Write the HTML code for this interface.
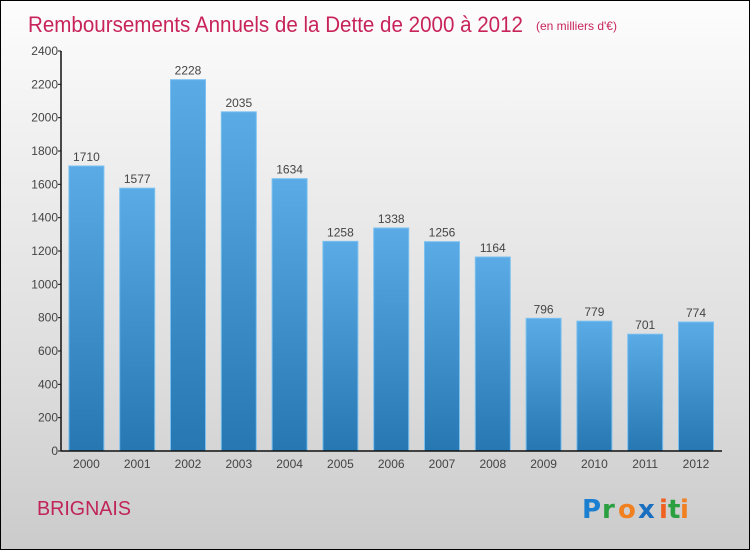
<!DOCTYPE html>
<html><head><meta charset="utf-8"><style>
body{margin:0;width:750px;height:550px;overflow:hidden;font-family:"Liberation Sans",sans-serif}
#wrap{position:absolute;left:0;top:0;width:748px;height:548px;border:1px solid #000;background:linear-gradient(#fdfdfd,#f0f0f0 25%,#dcdcdc 70%,#cbcbcb)}
</style></head><body>
<div id="wrap">
<svg width="750" height="550" viewBox="0 0 750 550">
<defs><linearGradient id="bg" x1="0" y1="0" x2="0" y2="1"><stop offset="0" stop-color="#5aabe6"/><stop offset="1" stop-color="#2677b2"/></linearGradient></defs>
<text x="27" y="31" font-size="22" fill="#c8245a" textLength="495" lengthAdjust="spacingAndGlyphs">Remboursements Annuels de la Dette de 2000 à 2012</text>
<text x="535" y="29" font-size="12" fill="#c8245a">(en milliers d'€)</text>
<g id="bars"></g>
<g id="axes"></g>
<text x="36" y="514" font-size="20" fill="#c0245a" textLength="94" lengthAdjust="spacingAndGlyphs">BRIGNAIS</text>
<g font-family="'DejaVu Sans',sans-serif" font-size="26" font-weight="bold">
<text x="581" y="517" fill="#1a7fd0">P</text><text x="601" y="517" fill="#2aa040">r</text><text x="617" y="517" fill="#f08020">o</text><text x="637" y="517" fill="#1a6fc0">x</text><text x="658" y="517" fill="#f06020">i</text><text x="667" y="517" fill="#2aa040">t</text><text x="679" y="517" fill="#f08020">i</text>
</g>
</svg></div>
<script>
const categories=["2000","2001","2002","2003","2004","2005","2006","2007","2008","2009","2010","2011","2012"];
const values=[1710,1577,2228,2035,1634,1258,1338,1256,1164,796,779,701,774];
const yTicks=[0,200,400,600,800,1000,1200,1400,1600,1800,2000,2200,2400];
const NS="http://www.w3.org/2000/svg";
const x0=60,step=50.8,bw=35,yBase=450,yMax=2400,ph=400;
const y=v=>yBase-v/yMax*ph;
const xc=i=>x0+step*(i+0.5);
function mk(t,a,p){const e=document.createElementNS(NS,t);for(const k in a)e.setAttribute(k,a[k]);p.appendChild(e);return e;}
const bars=document.getElementById('bars'),axes=document.getElementById('axes');
values.forEach((v,i)=>{
 const r=mk('rect',{x:xc(i)-bw/2,y:y(v),width:bw,height:yBase-y(v),fill:'url(#bg)',stroke:'#7cc0f0','stroke-width':1},bars);
 
 
 const t=mk('text',{x:xc(i),y:y(v)-5,'font-size':12,'text-anchor':'middle',fill:'#444'},bars);t.textContent=v;
 
 
 const c=mk('text',{x:xc(i),y:467,'font-size':12,'text-anchor':'middle',fill:'#444'},axes);c.textContent=categories[i];
 
 
});
const ya=mk('line',{x1:x0,y1:yBase,x2:x0,y2:y(yMax),stroke:'#111','stroke-width':1.5},axes);


const xa=mk('line',{x1:x0,y1:yBase,x2:721,y2:yBase,stroke:'#111','stroke-width':1.5},axes);


yTicks.forEach(v=>{
 mk('line',{x1:x0-3,y1:y(v),x2:x0,y2:y(v),stroke:'#111'},axes);
 const t=mk('text',{x:x0-3,y:y(v)+4,'font-size':12,'text-anchor':'end',fill:'#444'},axes);t.textContent=v;
 
 
});
</script>
</body></html>
